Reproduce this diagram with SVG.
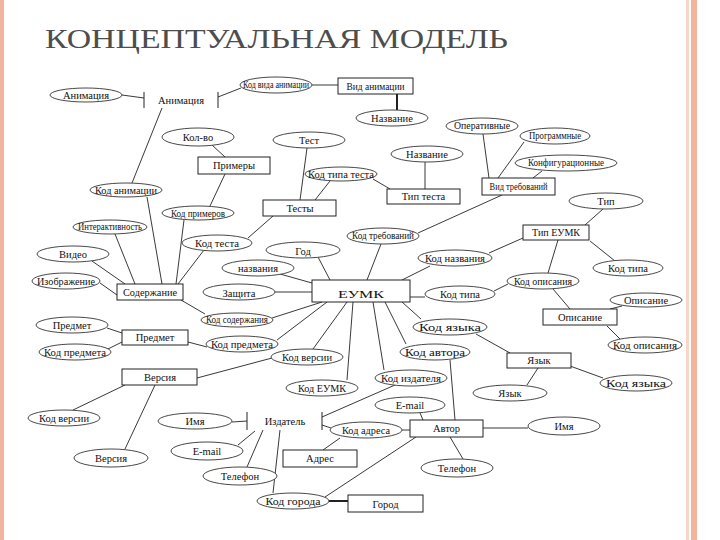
<svg xmlns="http://www.w3.org/2000/svg" width="720" height="540" viewBox="0 0 720 540">
<style>
text{fill:#111;text-anchor:middle;font-size:10.5px}
ellipse{fill:#fff;stroke:#333;stroke-width:0.9}
rect.ent{fill:#fff;stroke:#222;stroke-width:1}
.bar{stroke:#222;stroke-width:1}
#connectors line{stroke:#222;stroke-width:0.9}
#connectors line.thick{stroke-width:2}
.title{font-size:28px;fill:#4d4d4d;text-anchor:start}
</style>
<rect width="720" height="540" fill="#fff"/>
<rect x="0" y="0" width="4" height="540" fill="#f2b49c"/>
<rect x="686" y="0" width="3" height="540" fill="#f8d6ca"/>
<rect x="691" y="0" width="6" height="540" fill="#f2b49c"/>
<g font-family="Times New Roman, Liberation Serif, Tinos, serif">
<text class="title" x="45" y="48" textLength="463" lengthAdjust="spacingAndGlyphs">КОНЦЕПТУАЛЬНАЯ МОДЕЛЬ</text>

<g id="connectors">
<line x1="122" y1="95" x2="144" y2="98"/>
<line x1="218" y1="97" x2="241" y2="88"/>
<line x1="312" y1="85" x2="338" y2="85"/>
<line class="thick" x1="397" y1="94" x2="397" y2="110"/>
<line x1="162" y1="108" x2="132" y2="183"/>
<line x1="212" y1="145" x2="225" y2="157"/>
<line x1="225" y1="174" x2="210" y2="206"/>
<line x1="307" y1="148" x2="300" y2="200"/>
<line x1="330" y1="181" x2="315" y2="200"/>
<line x1="373" y1="179" x2="390" y2="189"/>
<line x1="425" y1="162" x2="425" y2="189"/>
<line x1="273" y1="216" x2="248" y2="238"/>
<line x1="483" y1="134" x2="489" y2="178"/>
<line x1="524" y1="142" x2="498" y2="178"/>
<line x1="542" y1="171" x2="533" y2="178"/>
<line x1="502" y1="195" x2="418" y2="233"/>
<line x1="381" y1="244" x2="367" y2="280"/>
<line x1="603" y1="209" x2="585" y2="225"/>
<line x1="590" y1="241" x2="615" y2="261"/>
<line x1="523" y1="238" x2="489" y2="253"/>
<line x1="558" y1="240" x2="548" y2="273"/>
<line x1="508" y1="284" x2="494" y2="291"/>
<line x1="553" y1="289" x2="570" y2="309"/>
<line x1="610" y1="309" x2="622" y2="306"/>
<line x1="607" y1="326" x2="620" y2="339"/>
<line x1="476" y1="334" x2="510" y2="353"/>
<line x1="538" y1="368" x2="527" y2="385"/>
<line x1="570" y1="366" x2="603" y2="378"/>
<line x1="330" y1="280" x2="318" y2="257"/>
<line x1="312" y1="283" x2="280" y2="274"/>
<line x1="312" y1="292" x2="275" y2="292"/>
<line x1="322" y1="302" x2="272" y2="318"/>
<line x1="327" y1="302" x2="277" y2="340"/>
<line x1="347" y1="302" x2="313" y2="349"/>
<line x1="353" y1="302" x2="347" y2="380"/>
<line x1="373" y1="302" x2="384" y2="370"/>
<line x1="385" y1="302" x2="406" y2="344"/>
<line x1="402" y1="302" x2="421" y2="319"/>
<line x1="410" y1="297" x2="425" y2="297"/>
<line x1="402" y1="280" x2="430" y2="266"/>
<line x1="181" y1="300" x2="205" y2="314"/>
<line x1="115" y1="234" x2="135" y2="284"/>
<line x1="147" y1="197" x2="162" y2="284"/>
<line x1="184" y1="220" x2="176" y2="284"/>
<line x1="204" y1="250" x2="178" y2="284"/>
<line x1="92" y1="261" x2="125" y2="284"/>
<line x1="100" y1="283" x2="117" y2="295"/>
<line x1="107" y1="328" x2="122" y2="333"/>
<line x1="122" y1="342" x2="108" y2="349"/>
<line x1="188" y1="342" x2="207" y2="347"/>
<line x1="197" y1="378" x2="272" y2="358"/>
<line x1="125" y1="385" x2="73" y2="410"/>
<line x1="155" y1="385" x2="125" y2="449"/>
<line x1="232" y1="422" x2="247" y2="421"/>
<line x1="238" y1="445" x2="255" y2="431"/>
<line x1="247" y1="467" x2="263" y2="430"/>
<line x1="280" y1="430" x2="273" y2="493"/>
<line x1="322" y1="425" x2="331" y2="428"/>
<line x1="395" y1="385" x2="322" y2="417"/>
<line x1="402" y1="430" x2="410" y2="430"/>
<line x1="340" y1="438" x2="323" y2="450"/>
<line x1="420" y1="413" x2="423" y2="420"/>
<line x1="450" y1="360" x2="455" y2="420"/>
<line x1="483" y1="428" x2="528" y2="428"/>
<line x1="450" y1="437" x2="463" y2="459"/>
<line x1="416" y1="437" x2="325" y2="497"/>
<line class="thick" x1="329" y1="501" x2="348" y2="501"/>
</g>

<g id="a_anim"><ellipse cx="86" cy="95" rx="36" ry="7"/><text x="86" y="99" font-size="11">Анимация</text></g>
<g id="e_anim"><line class="bar" x1="144" y1="92" x2="144" y2="108"/><line class="bar" x1="218" y1="92" x2="218" y2="108"/><text x="181" y="104">Анимация</text></g>
<g id="a_kod_vida_anim"><ellipse cx="276" cy="85" rx="36" ry="8"/><text x="276" y="88" font-size="8" textLength="66" lengthAdjust="spacingAndGlyphs">Код вида анимации</text></g>
<g id="e_vid_anim"><rect class="ent" x="338" y="78" width="75" height="16"/><text x="375.5" y="89.5" font-size="10" textLength="58" lengthAdjust="spacingAndGlyphs">Вид анимации</text></g>
<g id="a_nazv1"><ellipse cx="392" cy="118" rx="36" ry="8"/><text x="392" y="122" font-size="11">Название</text></g>
<g id="a_kolvo"><ellipse cx="198" cy="137" rx="36" ry="9"/><text x="198" y="141" font-size="11">Кол-во</text></g>
<g id="e_primery"><rect class="ent" x="198" y="157" width="72" height="17"/><text x="234" y="169" font-size="11">Примеры</text></g>
<g id="a_kod_anim"><ellipse cx="126" cy="190" rx="36" ry="7"/><text x="126" y="194" font-size="10" textLength="62" lengthAdjust="spacingAndGlyphs">Код анимации</text></g>
<g id="a_kod_prim"><ellipse cx="198" cy="213" rx="36" ry="7"/><text x="198" y="216.5" font-size="9.5" textLength="54" lengthAdjust="spacingAndGlyphs">Код примеров</text></g>
<g id="a_test"><ellipse cx="309" cy="140" rx="36" ry="8"/><text x="309" y="144" font-size="11.5">Тест</text></g>
<g id="a_kod_tipa_testa"><ellipse cx="341" cy="174" rx="36" ry="7"/><text x="341" y="177.5" font-size="9.5" textLength="66" lengthAdjust="spacingAndGlyphs">Код типа теста</text></g>
<g id="e_testy"><rect class="ent" x="263" y="200" width="73" height="16"/><text x="300" y="211.5" font-size="11">Тесты</text></g>
<g id="e_tip_testa"><rect class="ent" x="387" y="189" width="73" height="15"/><text x="423.5" y="200" font-size="10.5">Тип теста</text></g>
<g id="a_nazv2"><ellipse cx="427" cy="154" rx="36" ry="8"/><text x="427" y="158" font-size="11">Название</text></g>
<g id="a_operativ"><ellipse cx="482" cy="126" rx="36" ry="8"/><text x="482" y="129" font-size="8.5" textLength="56" lengthAdjust="spacingAndGlyphs">Оперативные</text></g>
<g id="a_program"><ellipse cx="555" cy="136" rx="35" ry="8"/><text x="555" y="139" font-size="8.5" textLength="52" lengthAdjust="spacingAndGlyphs">Программные</text></g>
<g id="a_konfig"><ellipse cx="566" cy="163" rx="51" ry="8"/><text x="566" y="166" font-size="8.5" textLength="76" lengthAdjust="spacingAndGlyphs">Конфигурационные</text></g>
<g id="e_vid_treb"><rect class="ent" x="482" y="178" width="73" height="17"/><text x="518.5" y="189.5" font-size="8.5" textLength="58" lengthAdjust="spacingAndGlyphs">Вид требований</text></g>
<g id="a_kod_treb"><ellipse cx="383" cy="236" rx="36" ry="8"/><text x="383" y="239" font-size="9" textLength="62" lengthAdjust="spacingAndGlyphs">Код требований</text></g>
<g id="a_tip"><ellipse cx="606" cy="201" rx="37" ry="8"/><text x="606" y="205" font-size="11">Тип</text></g>
<g id="e_tip_eumk"><rect class="ent" x="523" y="225" width="66" height="15"/><text x="556" y="236" font-size="10.5" textLength="48" lengthAdjust="spacingAndGlyphs">Тип ЕУМК</text></g>
<g id="a_kod_tipa_r"><ellipse cx="628" cy="268" rx="35" ry="8"/><text x="628" y="272" font-size="11">Код типа</text></g>
<g id="a_kod_nazv"><ellipse cx="455" cy="258" rx="37" ry="8"/><text x="455" y="262" font-size="10.5" textLength="60" lengthAdjust="spacingAndGlyphs">Код названия</text></g>
<g id="a_kod_tipa_m"><ellipse cx="460" cy="294" rx="35" ry="8"/><text x="460" y="298" font-size="11">Код типа</text></g>
<g id="a_kod_opis"><ellipse cx="543" cy="281" rx="36" ry="8"/><text x="543" y="284.5" font-size="10" textLength="58" lengthAdjust="spacingAndGlyphs">Код описания</text></g>
<g id="e_opis"><rect class="ent" x="543" y="309" width="74" height="16"/><text x="580" y="320.5" font-size="11">Описание</text></g>
<g id="a_opis"><ellipse cx="646" cy="300" rx="36" ry="7"/><text x="646" y="303.5" font-size="10.5">Описание</text></g>
<g id="a_kod_opis_r"><ellipse cx="645" cy="345" rx="37" ry="8"/><text x="645" y="349" font-size="10.5" textLength="64" lengthAdjust="spacingAndGlyphs">Код описания</text></g>
<g id="a_kod_yaz_m"><ellipse cx="450" cy="327" rx="37" ry="8"/><text x="450" y="331" font-size="12" textLength="62" lengthAdjust="spacingAndGlyphs">Код языка</text></g>
<g id="e_yazyk"><rect class="ent" x="507" y="353" width="64" height="15"/><text x="539" y="364" font-size="10">Язык</text></g>
<g id="a_yazyk"><ellipse cx="510" cy="393" rx="37" ry="8"/><text x="510" y="397" font-size="10">Язык</text></g>
<g id="a_kod_yaz_r"><ellipse cx="636" cy="383" rx="36" ry="8"/><text x="636" y="387" font-size="11" textLength="60" lengthAdjust="spacingAndGlyphs">Код языка</text></g>
<g id="a_kod_avt"><ellipse cx="435" cy="352" rx="35" ry="8"/><text x="435" y="356" font-size="12" textLength="60" lengthAdjust="spacingAndGlyphs">Код автора</text></g>
<g id="a_kod_izd"><ellipse cx="411" cy="378" rx="36" ry="8"/><text x="411" y="381.5" font-size="10" textLength="60" lengthAdjust="spacingAndGlyphs">Код издателя</text></g>
<g id="a_kod_eumk"><ellipse cx="322" cy="388" rx="36" ry="8"/><text x="322" y="392" font-size="11" textLength="48" lengthAdjust="spacingAndGlyphs">Код ЕУМК</text></g>
<g id="a_kod_vers_m"><ellipse cx="307" cy="357" rx="36" ry="8"/><text x="307" y="361" font-size="10.5" textLength="50" lengthAdjust="spacingAndGlyphs">Код версии</text></g>
<g id="a_kod_pred_m"><ellipse cx="242" cy="344" rx="36" ry="8"/><text x="242" y="348" font-size="10.5" textLength="62" lengthAdjust="spacingAndGlyphs">Код предмета</text></g>
<g id="a_kod_sod"><ellipse cx="237" cy="320" rx="36" ry="7"/><text x="237" y="323" font-size="9" textLength="62" lengthAdjust="spacingAndGlyphs">Код содержания</text></g>
<g id="a_zashita"><ellipse cx="239" cy="292" rx="36" ry="8"/><text x="239" y="296.5" font-size="12.5">Защита</text></g>
<g id="a_nazvaniya"><ellipse cx="258" cy="268" rx="36" ry="8"/><text x="258" y="272" font-size="12">названия</text></g>
<g id="a_god"><ellipse cx="303" cy="250" rx="37" ry="8"/><text x="303" y="254.5" font-size="13">Год</text></g>
<g id="e_eumk"><rect class="ent" x="312" y="280" width="98" height="22" stroke-width="1.4"/><text x="361" y="297.5" font-size="17" textLength="46" lengthAdjust="spacingAndGlyphs">ЕУМК</text></g>
<g id="a_interakt"><ellipse cx="110" cy="227" rx="37" ry="7"/><text x="110" y="230" font-size="8.5" textLength="64" lengthAdjust="spacingAndGlyphs">Интерактивность</text></g>
<g id="a_video"><ellipse cx="73" cy="254" rx="36" ry="8"/><text x="73" y="258" font-size="11">Видео</text></g>
<g id="a_izobr"><ellipse cx="66" cy="281" rx="34" ry="8"/><text x="66" y="285" font-size="10.5" textLength="58" lengthAdjust="spacingAndGlyphs">Изображение</text></g>
<g id="a_kod_testa"><ellipse cx="217" cy="243" rx="35" ry="8"/><text x="217" y="246.5" font-size="10" textLength="44" lengthAdjust="spacingAndGlyphs">Код теста</text></g>
<g id="e_soderzh"><rect class="ent" x="117" y="284" width="66" height="16"/><text x="150" y="295.5" font-size="10.5" textLength="54" lengthAdjust="spacingAndGlyphs">Содержание</text></g>
<g id="a_predmet"><ellipse cx="72" cy="325" rx="36" ry="8"/><text x="72" y="329" font-size="10.5">Предмет</text></g>
<g id="e_predmet"><rect class="ent" x="122" y="330" width="66" height="15"/><text x="155" y="341" font-size="11">Предмет</text></g>
<g id="a_kod_pred_l"><ellipse cx="75" cy="352" rx="36" ry="8"/><text x="75" y="356" font-size="10.5" textLength="62" lengthAdjust="spacingAndGlyphs">Код предмета</text></g>
<g id="e_versiya"><rect class="ent" x="122" y="369" width="75" height="16"/><text x="160" y="380.5" font-size="11">Версия</text></g>
<g id="a_kod_vers_l"><ellipse cx="64" cy="418" rx="36" ry="8"/><text x="64" y="422" font-size="10.5" textLength="50" lengthAdjust="spacingAndGlyphs">Код версии</text></g>
<g id="a_versiya"><ellipse cx="111" cy="458" rx="37" ry="9"/><text x="111" y="462" font-size="10.5">Версия</text></g>
<g id="a_imya_l"><ellipse cx="195" cy="421" rx="37" ry="8"/><text x="195" y="425" font-size="11">Имя</text></g>
<g id="a_email_l"><ellipse cx="207" cy="451" rx="36" ry="9"/><text x="207" y="455" font-size="10.5">E-mail</text></g>
<g id="a_tel_l"><ellipse cx="240" cy="476" rx="37" ry="9"/><text x="240" y="480" font-size="11">Телефон</text></g>
<g id="e_izdatel"><line class="bar" x1="247" y1="412" x2="247" y2="430"/><line class="bar" x1="322" y1="412" x2="322" y2="430"/><text x="285" y="424.5">Издатель</text></g>
<g id="a_kod_adr"><ellipse cx="366" cy="430" rx="36" ry="8"/><text x="366" y="434" font-size="10.5" textLength="48" lengthAdjust="spacingAndGlyphs">Код адреса</text></g>
<g id="e_adres"><rect class="ent" x="283" y="450" width="74" height="17"/><text x="320" y="462" font-size="11">Адрес</text></g>
<g id="a_email_r"><ellipse cx="410" cy="405" rx="35" ry="8"/><text x="410" y="409" font-size="10">E-mail</text></g>
<g id="e_avtor"><rect class="ent" x="410" y="420" width="73" height="17"/><text x="446.5" y="432" font-size="11">Автор</text></g>
<g id="a_imya_r"><ellipse cx="564" cy="426" rx="36" ry="9"/><text x="564" y="430" font-size="11">Имя</text></g>
<g id="a_tel_r"><ellipse cx="457" cy="468" rx="36" ry="9"/><text x="457" y="472" font-size="11.5">Телефон</text></g>
<g id="a_kod_gor"><ellipse cx="293" cy="501" rx="36" ry="8"/><text x="293" y="505" font-size="11" textLength="55" lengthAdjust="spacingAndGlyphs">Код города</text></g>
<g id="e_gorod"><rect class="ent" x="348" y="495" width="75" height="17"/><text x="385.5" y="507.5" font-size="11">Город</text></g>
</g>
</svg>
